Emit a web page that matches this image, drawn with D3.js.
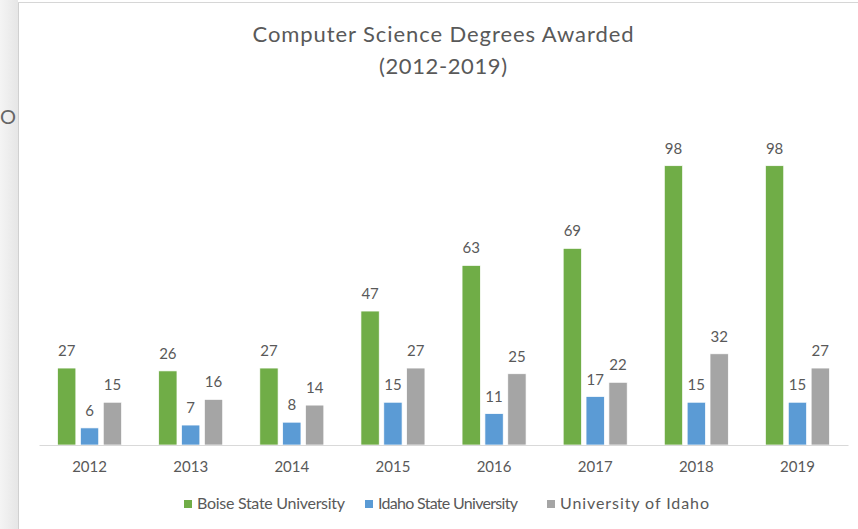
<!DOCTYPE html>
<html>
<head>
<meta charset="utf-8">
<script src="https://cdn.jsdelivr.net/npm/d3@7"></script>
<style>
  body { margin: 0; background: #fff; }
  svg { display: block; }
</style>
</head>
<body>
<div id="chart"></div>
<script>
// chart data
const years = ["2012", "2013", "2014", "2015", "2016", "2017", "2018", "2019"];
const seriesNames = ["Boise State University", "Idaho State University", "University of Idaho"];
const boiseState = [27, 26, 27, 47, 63, 69, 98, 98];
const idahoState = [6, 7, 8, 15, 11, 17, 15, 15];
const uIdaho = [15, 16, 14, 27, 25, 22, 32, 27];
const colors = ["#70AD47", "#5B9BD5", "#A5A5A5"];

const W = 858, H = 529;
const font = "Lato, 'Open Sans', sans-serif";
const textColor = "#595959";

const svg = d3.select("#chart").append("svg")
  .attr("width", W).attr("height", H);

// left gray strip (window edge) + panel border
const grad = svg.append("defs").append("linearGradient").attr("id", "edge");
grad.append("stop").attr("offset", "0%").attr("stop-color", "#f4f4f4");
grad.append("stop").attr("offset", "100%").attr("stop-color", "#e6e6e6");
svg.append("rect").attr("x", 0).attr("y", 0).attr("width", 18).attr("height", H).attr("fill", "url(#edge)");
svg.append("line").attr("x1", 18.5).attr("x2", 18.5).attr("y1", 2).attr("y2", H).attr("stroke", "#d0d0d0");
svg.append("line").attr("x1", 18).attr("x2", W).attr("y1", 2.5).attr("y2", 2.5).attr("stroke", "#d6d6d6");
svg.append("text").attr("x", 0).attr("y", 124).attr("font-family", font)
  .attr("font-size", 20).attr("fill", "#666").text("O");

// title
svg.append("text").attr("x", 443).attr("y", 42).attr("text-anchor", "middle")
  .attr("font-family", font).attr("font-size", 22).attr("fill", textColor)
  .attr("textLength", 381).attr("lengthAdjust", "spacing")
  .text("Computer Science Degrees Awarded");
svg.append("text").attr("x", 443).attr("y", 74).attr("text-anchor", "middle")
  .attr("font-family", font).attr("font-size", 22).attr("fill", textColor)
  .attr("textLength", 128).attr("lengthAdjust", "spacing")
  .text("(2012-2019)");

// scales
const x0 = d3.scaleBand().domain(years).range([39, 848]).paddingInner(0).paddingOuter(0);
const x1 = d3.scaleBand().domain(seriesNames).range([0, 64]).paddingInner(0.2);
const groupOffset = (x0.bandwidth() - 64) / 2;
const y = d3.scaleLinear().domain([0, 120]).range([445, 445 - 120 * 2.85]);

const rows = years.map((yr, i) => ({
  year: yr,
  vals: [boiseState[i], idahoState[i], uIdaho[i]]
}));

// bars
const groups = svg.append("g").selectAll("g").data(rows).enter().append("g")
  .attr("transform", d => `translate(${x0(d.year) + groupOffset},0)`);

groups.selectAll("rect").data(d => d.vals.map((v, k) => ({ v, k })))
  .enter().append("rect")
  .attr("x", d => x1(seriesNames[d.k]))
  .attr("y", d => y(d.v))
  .attr("width", x1.bandwidth())
  .attr("height", d => y(0) - y(d.v))
  .attr("fill", d => colors[d.k])
  .attr("stroke", "#fff").attr("stroke-width", 0.7);

groups.selectAll("text").data(d => d.vals.map((v, k) => ({ v, k })))
  .enter().append("text")
  .attr("x", d => x1(seriesNames[d.k]) + x1.bandwidth() / 2)
  .attr("y", d => y(d.v) - 12)
  .attr("text-anchor", "middle")
  .attr("font-family", font).attr("font-size", 15).attr("fill", textColor)
  .text(d => d.v);

// x axis
const xAxis = svg.append("g").attr("transform", `translate(0,${y(0)})`)
  .call(d3.axisBottom(x0).tickSize(0).tickPadding(16));
xAxis.select(".domain").attr("stroke", "#d9d9d9").attr("stroke-width", 1);
xAxis.selectAll("text").attr("font-family", font).attr("font-size", 15).attr("fill", textColor);

// legend
const legendX = [184, 365, 547];
const legendW = [148, 140, 149];
const legend = svg.append("g").selectAll("g").data(seriesNames).enter().append("g")
  .attr("transform", (d, i) => `translate(${legendX[i]},504)`);
legend.append("rect").attr("x", 0).attr("y", -4).attr("width", 8).attr("height", 8)
  .attr("fill", (d, i) => colors[i]);
legend.append("text").attr("x", 13).attr("y", 5)
  .attr("font-family", font).attr("font-size", 16).attr("fill", textColor)
  .attr("textLength", (d, i) => legendW[i]).attr("lengthAdjust", "spacing")
  .text(d => d);
</script>
</body>
</html>
